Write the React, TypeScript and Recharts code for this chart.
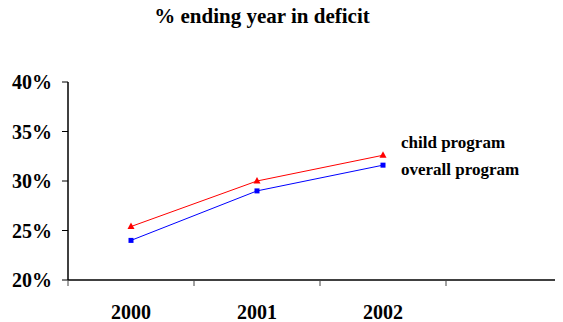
import React from 'react';
import { LineChart, Line, XAxis, YAxis } from 'recharts';

// Share of programs ending the year in deficit (%)
const years = ['2000', '2001', '2002', ''];
const childProgram = [25.4, 30.0, 32.6, null];
const overallProgram = [24.0, 29.0, 31.6, null];
const yTicks = [20, 25, 30, 35, 40];
const seriesNames = ['child program', 'overall program'];

const data = years.map((year, i) => ({
  year,
  child: childProgram[i],
  overall: overallProgram[i],
}));

const FONT = '"Liberation Serif", "Times New Roman", serif';
const X_TICK_SIZE = 6;
const X_TICK_MARGIN = 19;

const Triangle = (props: any) => {
  const { cx, cy } = props;
  if (cx == null || cy == null || props.value == null) return null;
  return <polygon points={`${cx},${cy - 4} ${cx - 3.5},${cy + 2.5} ${cx + 3.5},${cy + 2.5}`} fill="#ff0000" />;
};

const Square = (props: any) => {
  const { cx, cy } = props;
  if (cx == null || cy == null || props.value == null) return null;
  return <rect x={cx - 2.5} y={cy - 2.5} width={5} height={5} fill="#0000ff" />;
};

// year label in the middle of its band, with small marks on the band boundaries
const YearTick = (props: any) => {
  const { x, y, payload, index, visibleTicksCount } = props;
  const half = payload && payload.offset ? payload.offset : 63;
  const axisY = y - X_TICK_SIZE - X_TICK_MARGIN;
  const isLast = index === visibleTicksCount - 1;
  return (
    <g>
      <line x1={x - half} x2={x - half} y1={axisY} y2={axisY + 6} stroke="#444" strokeWidth={1} />
      {isLast && <line x1={x + half} x2={x + half} y1={axisY} y2={axisY + 6} stroke="#444" strokeWidth={1} />}
      <text
        x={x}
        y={y}
        dy="0.71em"
        textAnchor="middle"
        fill="#000"
        fontSize={20}
        fontWeight="bold"
        fontFamily={FONT}
      >
        {payload.value}
      </text>
    </g>
  );
};

export default function App() {
  return (
    <div style={{ position: 'relative', width: 555, height: 314, fontFamily: FONT }}>
      <div
        style={{
          position: 'absolute',
          left: 0,
          top: -2,
          width: 508,
          textAlign: 'center',
          fontSize: 21,
          lineHeight: '21px',
          fontWeight: 'bold',
          color: '#000',
        }}
      >
        % ending year in deficit
      </div>

      {/* the x axis runs past the right edge, so the plot is clipped there */}
      <div style={{ width: 555, height: 314, overflow: 'hidden' }}>
        <LineChart width={570} height={314} data={data} margin={{ top: 74, right: 6, bottom: 0, left: 0 }}>
          <XAxis
            dataKey="year"
            scale="band"
            height={42}
            axisLine={{ stroke: '#000', strokeWidth: 1.5 }}
            tickLine={false}
            tickSize={X_TICK_SIZE}
            tickMargin={X_TICK_MARGIN}
            interval={0}
            tick={<YearTick />}
          />
          <YAxis
            width={60}
            domain={[20, 40]}
            ticks={yTicks}
            tickFormatter={(v: number) => `${v}%`}
            axisLine={{ stroke: '#000', strokeWidth: 1.5 }}
            tickLine={{ stroke: '#000' }}
            tickMargin={10}
            tick={{ fill: '#000', fontSize: 20, fontWeight: 'bold', fontFamily: FONT }}
          />
          <Line
            dataKey="child"
            stroke="#ff0000"
            strokeWidth={1}
            dot={<Triangle />}
            activeDot={false}
            isAnimationActive={false}
          />
          <Line
            dataKey="overall"
            stroke="#0000ff"
            strokeWidth={1}
            dot={<Square />}
            activeDot={false}
            isAnimationActive={false}
          />
        </LineChart>
      </div>

      <div
        style={{
          position: 'absolute',
          left: 393,
          top: 121,
          fontSize: 17,
          lineHeight: '27px',
          fontWeight: 'bold',
          color: '#000',
        }}
      >
        {seriesNames.map((name) => (
          <div key={name}>{name}</div>
        ))}
      </div>
    </div>
  );
}
